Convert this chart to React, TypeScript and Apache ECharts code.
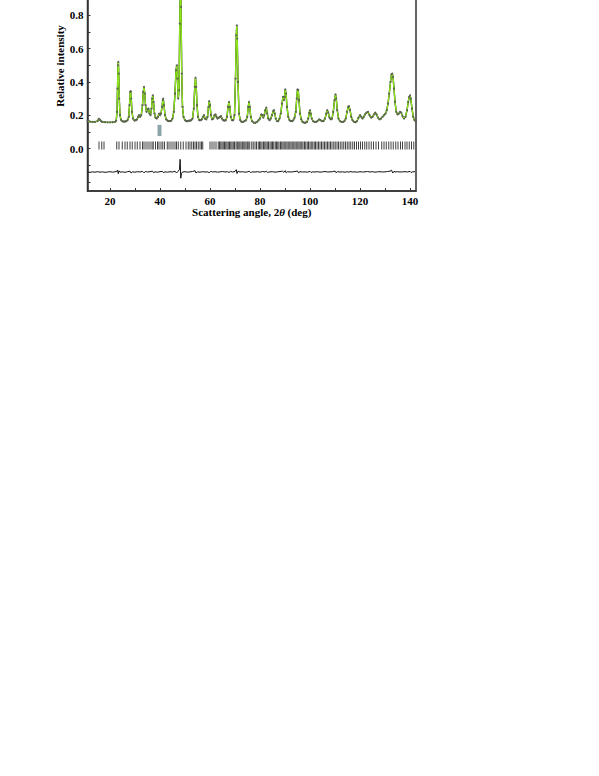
import React, { useEffect, useRef } from "react";
import * as echarts from "echarts";

// Observed / calculated profile [2θ (deg), relative intensity]
const profile: number[][] = [
  [11, 0.165], [12, 0.162], [13, 0.16], [14, 0.16], [15, 0.165], [15.5, 0.178], [16, 0.172], [16.5, 0.163],
  [17, 0.16], [18, 0.158], [19, 0.157], [20, 0.157], [21, 0.158], [22, 0.16], [22.5, 0.168], [22.8, 0.22],
  [23.0, 0.36], [23.2, 0.5], [23.35, 0.52], [23.5, 0.45], [23.7, 0.3], [24.0, 0.2], [24.4, 0.172], [25, 0.163],
  [25.5, 0.162], [26, 0.162], [26.5, 0.165], [27, 0.17], [27.5, 0.19], [27.8, 0.26], [28.1, 0.34], [28.3, 0.345],
  [28.5, 0.3], [28.8, 0.22], [29.2, 0.18], [29.8, 0.168], [30.3, 0.17], [30.8, 0.175], [31.2, 0.19], [31.6, 0.2],
  [32, 0.19], [32.5, 0.2], [33, 0.26], [33.3, 0.34], [33.6, 0.37], [33.9, 0.33], [34.2, 0.26], [34.6, 0.22],
  [35.0, 0.235], [35.4, 0.24], [35.8, 0.21], [36.2, 0.2], [36.6, 0.24], [36.9, 0.3], [37.1, 0.32], [37.4, 0.28],
  [37.8, 0.21], [38.2, 0.185], [38.7, 0.18], [39.2, 0.19], [39.6, 0.21], [40.0, 0.2], [40.4, 0.21], [40.8, 0.25],
  [41.1, 0.29], [41.3, 0.3], [41.6, 0.26], [42.0, 0.2], [42.5, 0.175], [43, 0.168], [43.5, 0.165], [44, 0.165],
  [44.5, 0.168], [45, 0.18], [45.5, 0.22], [46.0, 0.33], [46.4, 0.47], [46.7, 0.5], [47.0, 0.42], [47.3, 0.3],
  [47.6, 0.35], [47.9, 0.75], [48.15, 1.02], [48.4, 0.85], [48.7, 0.45], [49.0, 0.25], [49.4, 0.19], [50, 0.17],
  [50.5, 0.165], [51, 0.165], [51.5, 0.167], [52, 0.168], [52.5, 0.17], [53, 0.18], [53.5, 0.24], [53.9, 0.37],
  [54.2, 0.425], [54.5, 0.37], [54.8, 0.26], [55.2, 0.19], [55.7, 0.17], [56.2, 0.17], [56.7, 0.175], [57.2, 0.19],
  [57.6, 0.2], [58, 0.18], [58.5, 0.175], [59, 0.19], [59.4, 0.25], [59.7, 0.285], [60.0, 0.26], [60.4, 0.2],
  [60.8, 0.175], [61.3, 0.18], [61.8, 0.2], [62.2, 0.205], [62.6, 0.19], [63.0, 0.18], [63.5, 0.185], [64.0, 0.19],
  [64.4, 0.195], [64.8, 0.18], [65.3, 0.17], [65.8, 0.168], [66.3, 0.17], [66.8, 0.19], [67.2, 0.25], [67.6, 0.28],
  [67.9, 0.25], [68.3, 0.19], [68.8, 0.17], [69.3, 0.17], [69.8, 0.2], [70.2, 0.42], [70.5, 0.68], [70.7, 0.74],
  [70.9, 0.66], [71.2, 0.4], [71.6, 0.21], [72.1, 0.17], [72.6, 0.16], [73.2, 0.16], [73.8, 0.165], [74.4, 0.17],
  [74.9, 0.19], [75.3, 0.25], [75.6, 0.28], [75.9, 0.25], [76.3, 0.19], [76.8, 0.165], [77.5, 0.155], [78.2, 0.155],
  [78.8, 0.16], [79.4, 0.17], [80, 0.18], [80.5, 0.205], [80.9, 0.2], [81.3, 0.185], [81.7, 0.2], [82.1, 0.23],
  [82.5, 0.245], [82.9, 0.21], [83.3, 0.18], [83.8, 0.17], [84.3, 0.18], [84.8, 0.2], [85.3, 0.225], [85.6, 0.23],
  [85.9, 0.21], [86.3, 0.18], [86.8, 0.165], [87.3, 0.165], [87.8, 0.18], [88.3, 0.21], [88.8, 0.27], [89.2, 0.31],
  [89.5, 0.29], [89.8, 0.31], [90.1, 0.355], [90.4, 0.33], [90.8, 0.25], [91.3, 0.19], [91.8, 0.17], [92.3, 0.165],
  [92.8, 0.165], [93.3, 0.17], [93.8, 0.185], [94.3, 0.22], [94.7, 0.3], [95.0, 0.355], [95.3, 0.35], [95.6, 0.29],
  [96.0, 0.21], [96.5, 0.175], [97, 0.16], [97.6, 0.155], [98.2, 0.155], [98.8, 0.16], [99.3, 0.18], [99.7, 0.215],
  [100.0, 0.23], [100.3, 0.21], [100.7, 0.18], [101.2, 0.165], [101.8, 0.16], [102.4, 0.16], [103, 0.165], [103.6, 0.175],
  [104.2, 0.17], [104.8, 0.165], [105.4, 0.165], [106, 0.18], [106.5, 0.21], [106.9, 0.23], [107.3, 0.215], [107.8, 0.185],
  [108.3, 0.175], [108.8, 0.18], [109.3, 0.22], [109.8, 0.29], [110.2, 0.325], [110.5, 0.3], [110.9, 0.23], [111.4, 0.18],
  [112, 0.165], [112.6, 0.16], [113.2, 0.16], [113.8, 0.165], [114.3, 0.18], [114.8, 0.22], [115.3, 0.25], [115.6, 0.255],
  [116.0, 0.23], [116.5, 0.19], [117, 0.17], [117.6, 0.16], [118.2, 0.158], [118.8, 0.165], [119.4, 0.185], [120, 0.2],
  [120.5, 0.19], [121, 0.18], [121.5, 0.19], [122, 0.205], [122.6, 0.215], [123.2, 0.22], [123.8, 0.2], [124.4, 0.185],
  [125, 0.19], [125.6, 0.205], [126.1, 0.215], [126.6, 0.205], [127.2, 0.185], [127.8, 0.175], [128.4, 0.18], [129, 0.19],
  [129.6, 0.2], [130.2, 0.21], [130.7, 0.23], [131.2, 0.27], [131.7, 0.33], [132.2, 0.4], [132.6, 0.445], [132.9, 0.45],
  [133.2, 0.43], [133.6, 0.36], [134.0, 0.28], [134.5, 0.22], [135, 0.205], [135.5, 0.21], [136, 0.22], [136.5, 0.215],
  [137, 0.195], [137.6, 0.18], [138.2, 0.19], [138.8, 0.23], [139.3, 0.28], [139.7, 0.31], [140.0, 0.32], [140.3, 0.3],
  [140.8, 0.24], [141.3, 0.19], [141.8, 0.17], [142.3, 0.165],
];

// Difference curve (obs - calc, offset)
const difference: number[][] = [
  [11, -0.141], [12, -0.143], [13, -0.14], [14, -0.142], [15, -0.139], [16, -0.142], [17, -0.14], [18, -0.143],
  [19, -0.141], [20, -0.139], [21, -0.142], [22, -0.14], [22.7, -0.137], [23.0, -0.13], [23.3, -0.151], [23.6, -0.134],
  [24.0, -0.142], [25, -0.14], [26, -0.143], [27, -0.139], [28, -0.136], [28.4, -0.147], [29, -0.14], [30, -0.142],
  [31, -0.139], [32, -0.141], [33, -0.137], [33.6, -0.146], [34.2, -0.138], [35, -0.141], [36, -0.139], [37, -0.136],
  [37.4, -0.145], [38, -0.14], [39, -0.142], [40, -0.139], [41, -0.137], [41.4, -0.145], [42, -0.14], [43, -0.142],
  [44, -0.139], [45, -0.141], [46, -0.136], [46.6, -0.147], [47.2, -0.138], [47.8, -0.125], [48.05, -0.065], [48.3, -0.178],
  [48.6, -0.15], [49, -0.141], [50, -0.139], [51, -0.142], [52, -0.14], [53, -0.138], [54, -0.133], [54.4, -0.147],
  [55, -0.14], [56, -0.142], [57, -0.139], [58, -0.141], [59, -0.14], [59.7, -0.145], [60.3, -0.137], [61, -0.141],
  [62, -0.139], [63, -0.142], [64, -0.14], [65, -0.138], [66, -0.141], [67, -0.139], [67.6, -0.144], [68.2, -0.137],
  [69, -0.141], [70, -0.138], [70.5, -0.127], [70.8, -0.15], [71.2, -0.136], [72, -0.141], [73, -0.139], [74, -0.142],
  [75, -0.14], [75.7, -0.136], [76.2, -0.144], [77, -0.14], [78, -0.141], [79, -0.139], [80, -0.142], [81, -0.138],
  [82, -0.141], [82.5, -0.136], [83, -0.143], [84, -0.14], [85, -0.139], [86, -0.142], [87, -0.14], [88, -0.138],
  [89, -0.136], [89.5, -0.143], [90.1, -0.133], [90.5, -0.146], [91, -0.139], [92, -0.141], [93, -0.14], [94, -0.138],
  [95, -0.135], [95.4, -0.146], [96, -0.139], [97, -0.141], [98, -0.14], [99, -0.142], [100, -0.137], [100.4, -0.144],
  [101, -0.14], [102, -0.141], [103, -0.139], [104, -0.142], [105, -0.14], [106, -0.138], [107, -0.141], [108, -0.14],
  [109, -0.139], [110, -0.135], [110.4, -0.145], [111, -0.139], [112, -0.141], [113, -0.14], [114, -0.142], [115, -0.139],
  [115.6, -0.143], [116, -0.138], [117, -0.141], [118, -0.14], [119, -0.142], [120, -0.139], [121, -0.141], [122, -0.14],
  [123, -0.138], [124, -0.141], [125, -0.139], [126, -0.142], [127, -0.14], [128, -0.139], [129, -0.141], [130, -0.14],
  [131, -0.138], [132, -0.136], [132.6, -0.13], [133.1, -0.147], [133.6, -0.137], [134, -0.141], [135, -0.139], [136, -0.141],
  [137, -0.14], [138, -0.139], [139, -0.141], [140, -0.137], [140.4, -0.144], [141, -0.14], [142, -0.139],
];

// Bragg reflection positions (2θ, deg)
const reflections: number[] = [
  15.6, 16.7, 17.6, 22.7, 23.6, 24.9, 26.0, 26.9, 28.0, 28.9, 30.0, 30.9, 32.0, 33.0, 33.6, 34.4, 35.2, 36.0,
  36.8, 37.3, 38.2, 39.0, 39.6, 40.4, 41.1, 41.8, 42.9, 43.6, 44.4, 45.2, 46.0, 46.6, 47.3, 48.3, 49.3, 50.4,
  51.3, 52.0, 52.7, 53.4, 54.0, 54.6, 55.3, 56.0, 56.6, 57.1, 60.0, 60.8, 61.6, 62.4, 63.3, 63.8, 64.3, 64.8,
  65.3, 65.8, 66.3, 66.8, 67.3, 67.8, 68.3, 68.8, 69.3, 69.8, 70.4, 70.9, 71.3, 71.9, 72.4, 72.9, 73.3, 73.9,
  74.4, 74.9, 75.3, 75.9, 76.7, 77.3, 78.0, 78.6, 79.3, 79.8, 80.3, 80.8, 81.4, 81.9, 82.4, 82.9, 83.4, 84.0,
  84.5, 85.0, 85.5, 86.1, 86.6, 87.1, 87.6, 88.2, 88.7, 89.2, 89.7, 90.3, 90.8, 91.3, 91.9, 92.4, 92.9, 93.5,
  94.0, 94.5, 95.1, 95.6, 96.1, 96.7, 97.2, 97.8, 98.3, 98.9, 99.4, 100.0, 100.5, 101.1, 101.7, 102.2, 102.8,
  103.4, 104.0, 104.6, 105.2, 105.8, 106.4, 107.0, 107.6, 108.2, 108.8, 109.5, 110.1, 110.8, 111.4, 112.1,
  112.8, 113.5, 114.2, 114.9, 115.6, 116.3, 117.1, 117.8, 118.6, 119.4, 120.2, 121.0, 121.9, 122.7, 123.6,
  124.5, 125.4, 126.4, 127.4, 128.7, 129.6, 130.5, 131.5, 132.4, 133.3, 134.3, 135.2, 136.2, 137.0, 138.0,
  138.8, 139.7, 140.6, 141.5,
];

const excludedRegion = { x0: 39.0, x1: 40.6, y0: 0.075, y1: 0.142 };
const yTickLabels = ["0.0", "0.2", "0.4", "0.6", "0.8"];
const xTickLabels = ["20", "40", "60", "80", "100", "120", "140"];
const reflectionLevel = 0.018;

const FONT = '"Liberation Serif", "Times New Roman", serif';
const OFFSET = 40;

export default function App() {
  const ref = useRef<HTMLDivElement>(null);
  useEffect(() => {
    if (!ref.current) return;
    const chart = echarts.init(ref.current, null, { renderer: "svg" });
    const gridLeft = 87.5;
    const gridRight = 599 - 416;
    const gridTop = OFFSET - 18;
    const gridHeight = 191 + OFFSET - gridTop;
    chart.setOption({
      animation: false,
      backgroundColor: "#ffffff",
      grid: {
        left: gridLeft,
        right: gridRight,
        top: gridTop,
        height: gridHeight,
        show: true,
        borderColor: "#333",
        borderWidth: 1.5,
        backgroundColor: "transparent",
      },
      xAxis: {
        type: "value",
        min: 11,
        max: 142.4,
        minInterval: 10,
        maxInterval: 10,
        name: "Scattering angle, 2{i|θ} (deg)",
        nameLocation: "middle",
        nameGap: 14,
        nameTextStyle: {
          fontFamily: FONT,
          fontWeight: "bold",
          fontSize: 11,
          color: "#000",
          rich: { i: { fontFamily: FONT, fontWeight: "bold", fontStyle: "italic", fontSize: 11, color: "#000" } },
        },
        axisLine: { show: true, onZero: false, lineStyle: { color: "#333", width: 1.5 } },
        axisTick: { show: true, inside: true, length: 3, lineStyle: { color: "#333", width: 1 } },
        splitLine: { show: false },
        axisLabel: {
          margin: 4,
          fontFamily: FONT,
          fontWeight: "bold",
          fontSize: 11,
          color: "#000",
          showMinLabel: false,
          showMaxLabel: false,
          formatter: (v: number) => {
            const s = String(Math.round(v));
            return Math.abs(v - Math.round(v)) < 1e-6 && xTickLabels.includes(s) ? s : "";
          },
        },
      },
      yAxis: {
        type: "value",
        min: -0.255,
        max: 1.0,
        minInterval: 0.1,
        maxInterval: 0.1,
        axisLine: { show: true, onZero: false, lineStyle: { color: "#333", width: 1.5 } },
        axisTick: { show: true, inside: true, length: 3, lineStyle: { color: "#333", width: 1 } },
        splitLine: { show: false },
        axisLabel: {
          margin: 4,
          fontFamily: FONT,
          fontWeight: "bold",
          fontSize: 11,
          color: "#000",
          showMinLabel: false,
          showMaxLabel: false,
          formatter: (v: number) => {
            const s = v.toFixed(1);
            return Math.abs(v * 10 - Math.round(v * 10)) < 1e-6 && yTickLabels.includes(s) ? s : "";
          },
        },
      },
      graphic: [
        {
          type: "text",
          x: 60,
          y: 66 + OFFSET,
          rotation: Math.PI / 2,
          style: {
            text: "Relative intensity",
            fontFamily: FONT,
            fontWeight: "bold",
            fontSize: 11,
            fill: "#000",
            textAlign: "center",
            textVerticalAlign: "middle",
          },
        },
      ],
      series: [
        {
          type: "line",
          name: "obs-line",
          data: profile,
          showSymbol: false,
          lineStyle: { color: "#111", width: 1.4 },
          z: 2,
        },
        {
          type: "line",
          name: "calc",
          data: profile,
          showSymbol: false,
          lineStyle: { color: "#8ee81a", width: 1.3 },
          z: 3,
        },
        {
          type: "scatter",
          name: "obs",
          data: profile,
          symbol: "circle",
          symbolSize: 2,
          itemStyle: { color: "#555", opacity: 0.85 },
          z: 4,
        },
        {
          type: "line",
          name: "difference",
          data: difference,
          showSymbol: false,
          lineStyle: { color: "#111", width: 1 },
          z: 3,
        },
        {
          type: "scatter",
          name: "reflections",
          data: reflections.map((x) => [x, reflectionLevel]),
          symbol: "rect",
          symbolSize: [1, 8],
          itemStyle: { color: "#111" },
          z: 3,
          markArea: {
            silent: true,
            itemStyle: { color: "#8ca4a6" },
            data: [
              [
                { coord: [excludedRegion.x0, excludedRegion.y0] },
                { coord: [excludedRegion.x1, excludedRegion.y1] },
              ],
            ],
          },
        },
      ],
    });
    return () => chart.dispose();
  }, []);
  return (
    <div
      ref={ref}
      style={{ position: "absolute", left: 0, top: -OFFSET, width: 599, height: 776 + OFFSET }}
    />
  );
}
